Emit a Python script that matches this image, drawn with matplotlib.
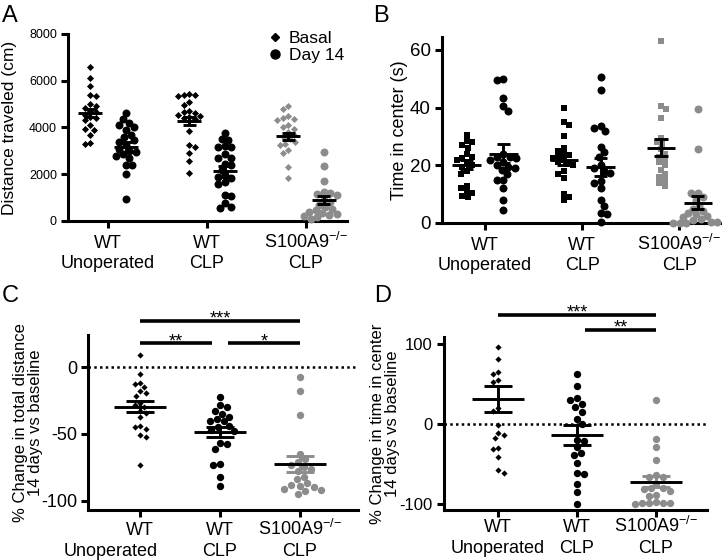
import matplotlib
matplotlib.use("agg")

import matplotlib.pyplot as plt
import numpy as np
from matplotlib.lines import Line2D

plt.rcParams['font.family'] = ['Liberation Sans', 'DejaVu Sans']
plt.rcParams['mathtext.fontset'] = 'custom'
plt.rcParams['mathtext.rm'] = 'Liberation Sans'
plt.rcParams['mathtext.it'] = 'Liberation Sans:italic'
plt.rcParams['mathtext.bf'] = 'Liberation Sans:bold'
plt.rcParams['axes.unicode_minus'] = False

# Group labels (two lines under each tick).
groups_line1 = ["WT", "WT", "S100A9$^{{-}/{-}}$"]
groups_line2 = ["Unoperated", "CLP", "CLP"]

# Panel A: distance traveled (cm).
dist_basal = [
    [6580, 6100, 5780, 5380, 5350, 5000, 4900, 4850, 4700, 4650, 4550, 4450,
     4400, 4300, 4100, 3950, 3900, 3700, 3350, 3300],
    [5420, 5400, 5380, 5350, 5100, 4950, 4700, 4650, 4600, 4550, 4500, 4450,
     4400, 4350, 3850, 3250, 3150, 2900, 2550, 2050],
    [4900, 4800, 4500, 4400, 4350, 4300, 4100, 4000, 3950, 3800, 3700, 3600,
     3500, 3400, 3300, 3250, 3050, 2900, 2300, 1850],
]
dist_day14 = [
    [4600, 4350, 4200, 4100, 4000, 3900, 3700, 3600, 3450, 3400, 3250, 3100,
     3000, 2950, 2850, 2800, 2700, 2400, 2400, 2000, 950],
    [3750, 3500, 3450, 3200, 3150, 3150, 2850, 2700, 2700, 2450, 2400, 2200,
     1950, 1900, 1850, 1650, 1600, 1100, 1050, 750, 600, 550],
    [2950, 2350, 1700, 1250, 1200, 1150, 1100, 900, 800, 700, 600, 500,
     450, 400, 350, 300, 250, 200, 150, 100],
]
dist_basal_mean = [4620, 4290, 3620]
dist_basal_sem = [160, 180, 160]
dist_day14_mean = [3180, 2130, 900]
dist_day14_sem = [210, 240, 190]

# Panel B: time in center (s).
center_basal = [
    [30.5, 28.5, 28, 27, 26, 24, 23, 22.5, 22, 21, 20, 19.5, 18, 17, 13, 12,
     11, 10.5, 9.5, 9],
    [40, 35, 34, 30, 26, 25, 24, 23.5, 23, 22.5, 22, 21, 20.5, 20, 18, 17,
     15.5, 10, 9, 8],
    [63, 40.5, 39.5, 36.5, 29.5, 28, 27.5, 25.5, 24, 23, 22, 21, 20, 18.5,
     17, 16, 15, 14, 13],
]
center_day14 = [
    [50, 49.5, 43.5, 40.5, 39, 24, 23, 23, 22.5, 22, 21, 20, 19.5, 19, 18.5,
     17, 15, 15, 12, 8, 4.5],
    [50.5, 46, 33.5, 33, 32, 26.5, 24.5, 23, 20, 19, 18, 17.5, 14.5, 14, 12,
     8, 6, 3.5, 3, 0.5],
    [39.5, 25.5, 10.5, 10.5, 9, 8, 6, 5, 4, 3.5, 3, 2.5, 2, 1.5, 1, 0.5, 0.5,
     0, 0, 0],
]
center_basal_mean = [20.2, 22.0, 26.1]
center_basal_sem = [1.5, 1.8, 2.9]
center_day14_mean = [24.1, 19.5, 7.0]
center_day14_sem = [3.2, 3.1, 2.2]

# Panel C: % change in total distance.
dist_change = [
    [9.5, -5, -12, -12.5, -15, -18, -19, -21.5, -27, -28, -30, -33, -34,
     -37.5, -44, -45, -46, -51, -52, -73],
    [-22, -28, -30, -32.5, -35, -37, -39, -40, -40.5, -44, -45, -47, -48,
     -57, -57.5, -61, -72.5, -73.5, -82, -89],
    [-7, -18, -36, -65, -69, -71, -73, -74.5, -76, -78, -82, -83.5, -87, -88,
     -89, -90, -91, -92, -93, -95],
]
dist_change_mean = [-29.5, -48.3, -72.5]
dist_change_sem = [4.0, 3.7, 6.2]
dist_sig = [(0, 2, "***"), (0, 1, "**"), (1, 2, "*")]

# Panel D: % change in time in center.
center_change = [
    [96, 82, 65, 62, 55, 52, 20, 16, -1, -12, -14, -18, -30, -32, -41, -58,
     -62],
    [63, 47, 32, 30, 25, 21, 15.5, 6, 0, -20, -22, -29, -37, -39, -49, -61,
     -63, -76, -86, -100],
    [30, -19, -29, -45, -64, -66, -67, -75, -80, -81, -82, -84, -89, -90, -98,
     -99, -99, -99, -99, -100],
]
center_change_mean = [31, -13.8, -72.4]
center_change_sem = [16.7, 13.0, 6.8]
center_sig = [(0, 2, "***"), (1, 2, "**")]

GRAY = "#8c8c8c"
colors = ["black", "black", GRAY]

W, H = 723, 560
fig = plt.figure(figsize=(W / 100, H / 100), dpi=100)


def add_ax(l, t, r, b):
    return fig.add_axes([l / W, 1 - b / H, (r - l) / W, (b - t) / H])


def style(ax, yticks, tick_fs):
    for s in ["top", "right"]:
        ax.spines[s].set_visible(False)
    for s in ["left", "bottom"]:
        ax.spines[s].set_linewidth(2.2)
    ax.tick_params(width=2.2, length=5, labelsize=tick_fs, pad=3)
    ax.set_xticks([0, 1, 2])
    ax.set_xticklabels([])
    ax.set_yticks(yticks)


def cat_labels(ax, d1, d2, shift=(0, 0, 0)):
    for i in range(3):
        ax.annotate(groups_line1[i], (i, 0), xycoords=("data", "axes fraction"),
                    xytext=(0, -d1), textcoords="offset pixels",
                    ha="center", va="baseline", fontsize=13,
                    annotation_clip=False)
        ax.annotate(groups_line2[i], (i, 0), xycoords=("data", "axes fraction"),
                    xytext=(shift[i], -d2), textcoords="offset pixels",
                    ha="center", va="baseline", fontsize=13,
                    annotation_clip=False)


def swarm_x(ax, x0, vals, diam):
    # simple beeswarm in pixel space, then back to data coordinates
    vals = np.asarray(vals, float)
    disp = ax.transData.transform(np.column_stack([np.full(len(vals), x0), vals]))
    xc, ys = disp[0, 0], disp[:, 1]
    offs = np.zeros(len(vals))
    placed = []
    step = diam * 0.25
    for n, i in enumerate(np.argsort(-ys)):
        k = 0
        found = None
        while found is None:
            if k == 0:
                cands = [0.0]
            elif n % 2:
                cands = [-k * step, k * step]
            else:
                cands = [k * step, -k * step]
            for c in cands:
                if all((c - px) ** 2 + (ys[i] - py) ** 2 >= diam ** 2
                       for px, py in placed):
                    found = c
                    break
            k += 1
        offs[i] = found
        placed.append((found, ys[i]))
    back = ax.transData.inverted().transform(np.column_stack([xc + offs, ys]))
    return back[:, 0]


def points(ax, x0, vals, marker, s, diam, color):
    xs = swarm_x(ax, x0, vals, diam)
    ax.scatter(xs, vals, marker=marker, s=s, color=color, linewidths=0,
               zorder=3, clip_on=False)


def mean_sem(ax, x, m, e, hw, cw, cmean, csem, lw=2.1):
    ax.hlines([m - e, m + e], x - cw, x + cw, color=csem, lw=lw, zorder=4)
    ax.vlines(x, m - e, m + e, color=csem, lw=lw, zorder=4)
    ax.hlines(m, x - hw, x + hw, color=cmean, lw=lw, zorder=5)


def sig_bars(ax, pairs, levels, fs=13):
    for (a, b, txt), lev in zip(pairs, levels):
        x0 = a + (0.1 if (b - a == 1 and a > 0) else 0)
        x1 = b - (0.1 if (b - a == 1 and b < 2) else 0)
        ax.plot([x0, x1], [lev, lev], color="black", lw=2.6,
                solid_capstyle="butt", clip_on=False)
        ax.annotate(txt, ((x0 + x1) / 2, lev), xytext=(0, -3),
                    textcoords="offset pixels", ha="center", va="baseline",
                    fontsize=fs, annotation_clip=False)


# ---- Panel A
ax = add_ax(68, 34, 347, 221)
ax.set_xlim(-0.404, 2.414)
ax.set_ylim(0, 8000)
style(ax, [0, 2000, 4000, 6000, 8000], 9)
for i in range(3):
    points(ax, i - 0.18, dist_basal[i], "D", 13, 5.5, colors[i])
    points(ax, i + 0.18, dist_day14[i], "o", 33, 6.5, colors[i])
    mean_sem(ax, i - 0.18, dist_basal_mean[i], dist_basal_sem[i], 0.12, 0.066,
             "black", "black")
    mean_sem(ax, i + 0.18, dist_day14_mean[i], dist_day14_sem[i], 0.12, 0.066,
             "black", "black")
ax.set_ylabel("Distance traveled (cm)", fontsize=12.5, va="center")
ax.yaxis.set_label_coords(-0.211, 0.5)
cat_labels(ax, 27, 47)
handles = [Line2D([], [], marker="D", ls="none", color="black", markersize=4),
           Line2D([], [], marker="o", ls="none", color="black", markersize=6.5)]
ax.legend(handles, ["Basal", "Day 14"], loc="upper left",
          bbox_to_anchor=(266 / W, 1 - 31 / H), bbox_transform=fig.transFigure,
          frameon=False, fontsize=12.5, handlelength=1.0, handletextpad=0.3,
          borderpad=0, borderaxespad=0, labelspacing=0.1)

# ---- Panel B
ax = add_ax(442, 37, 720, 223)
ax.set_xlim(-0.443, 2.42)
ax.set_ylim(0, 64.5)
style(ax, [0, 20, 40, 60], 13.5)
for i in range(3):
    points(ax, i - 0.19, center_basal[i], "s", 25, 5.5, colors[i])
    points(ax, i + 0.19, center_day14[i], "o", 33, 6.5, colors[i])
    mean_sem(ax, i - 0.19, center_basal_mean[i], center_basal_sem[i], 0.145,
             0.07, "black", "black")
    mean_sem(ax, i + 0.19, center_day14_mean[i], center_day14_sem[i], 0.145,
             0.07, "black", "black")
ax.set_ylabel("Time in center (s)", fontsize=13, va="center")
ax.yaxis.set_label_coords(-0.152, 0.5)
cat_labels(ax, 27, 47)

# ---- Panel C
ax = add_ax(88, 335, 358, 510)
ax.set_xlim(-0.65, 2.725)
ax.set_ylim(-107, 24.2)
style(ax, [-100, -50, 0], 13)
ax.axhline(0, color="black", lw=1.8, ls=(0, (1, 1.3)), zorder=1)
markers_cd = ["D", "o", "o"]
sizes_cd = [10, 28, 28]
diams_cd = [5.5, 7, 7]
for i in range(3):
    points(ax, i, dist_change[i], markers_cd[i], sizes_cd[i], diams_cd[i],
           colors[i])
    mean_sem(ax, i, dist_change_mean[i], dist_change_sem[i], 0.33, 0.18,
             "black", colors[i])
ax.set_ylabel("% Change in total distance\n14 days vs baseline", fontsize=12,
              va="center", linespacing=1.05)
ax.yaxis.set_label_coords(-0.222, 0.5)
cat_labels(ax, 25, 46, shift=(-29, 0, 0))
sig_bars(ax, dist_sig, [35, 18, 18])

# ---- Panel D
ax = add_ax(444, 337, 707, 510)
ax.set_xlim(-0.684, 2.646)
ax.set_ylim(-108, 109)
style(ax, [-100, 0, 100], 12)
ax.axhline(0, color="black", lw=1.8, ls=(0, (1, 1.3)), zorder=1)
for i in range(3):
    points(ax, i, center_change[i], markers_cd[i], sizes_cd[i], diams_cd[i],
           colors[i])
    mean_sem(ax, i, center_change_mean[i], center_change_sem[i], 0.33, 0.18,
             "black", colors[i])
ax.set_ylabel("% Change in time in center\n14 days vs baseline", fontsize=12,
              va="center", linespacing=1.05)
ax.yaxis.set_label_coords(-0.225, 0.5)
cat_labels(ax, 22, 43)
sig_bars(ax, center_sig, [137, 118])

# Panel letters
for letter, x, y in [("A", 2, 22), ("B", 373, 22), ("C", 2, 302), ("D", 374, 302)]:
    fig.text(x / W, 1 - y / H, letter, fontsize=17, va="baseline", ha="left")

fig.savefig("out.png", dpi=100)
